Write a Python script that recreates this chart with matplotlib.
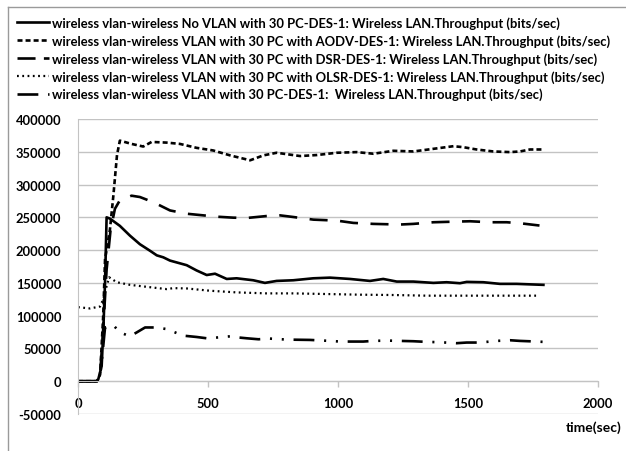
import matplotlib
matplotlib.use("Agg")
import matplotlib.pyplot as plt
from matplotlib.lines import Line2D

# Throughput of the five wireless scenarios (bits/sec) against time (sec)
plt.rcParams['font.family'] = ['Lato', 'DejaVu Sans']
plt.rcParams['font.weight'] = 'bold'
plt.rcParams['lines.scale_dashes'] = False

labels = [
    "wireless vlan-wireless No VLAN with 30 PC-DES-1: Wireless LAN.Throughput (bits/sec)",
    "wireless vlan-wireless VLAN with 30 PC with AODV-DES-1: Wireless LAN.Throughput (bits/sec)",
    "wireless vlan-wireless VLAN with 30 PC with DSR-DES-1: Wireless LAN.Throughput (bits/sec)",
    "wireless vlan-wireless VLAN with 30 PC with OLSR-DES-1: Wireless LAN.Throughput (bits/sec)",
    "wireless vlan-wireless VLAN with 30 PC-DES-1:  Wireless LAN.Throughput (bits/sec)",
]

novlan_t = [0, 40, 73, 78, 91, 97, 104, 110, 123, 161, 200, 238, 277, 303, 328, 354, 418, 456,
            495, 527, 572, 610, 674, 719, 764, 828, 905, 969, 1046, 1123, 1174, 1226, 1290,
            1367, 1418, 1469, 1495, 1559, 1623, 1687, 1790]
novlan_v = [0, 0, 0, 3000, 23000, 74000, 151000, 250000, 248000, 237000, 222000, 209000,
            199000, 192000, 189000, 184000, 177000, 169000, 162000, 164000, 156000, 157000,
            154000, 150000, 153000, 154000, 157000, 158000, 156000, 153000, 156000, 152000,
            152000, 150000, 151000, 149500, 151500, 151000, 148500, 148500, 147000]

aodv_t = [0, 73, 85, 97, 104, 123, 136, 150, 161, 206, 251, 283, 341, 392, 456, 520, 585, 662,
          713, 764, 854, 918, 995, 1072, 1136, 1213, 1290, 1367, 1444, 1482, 1533, 1597, 1662,
          1700, 1738, 1790]
aodv_v = [0, 0, 10000, 100000, 186000, 232000, 283000, 345000, 367000, 362000, 358000, 365000,
          364000, 362000, 356000, 352000, 344500, 337000, 344500, 348500, 343500, 345000,
          348500, 349500, 347000, 351500, 350500, 354500, 358500, 357000, 353500, 350500,
          349500, 350500, 353500, 353500]

dsr_t = [0, 73, 85, 97, 110, 125, 142, 161, 206, 238, 264, 303, 354, 418, 482, 533, 597, 649,
         726, 777, 828, 905, 995, 1059, 1136, 1238, 1290, 1367, 1456, 1508, 1585, 1649, 1700, 1775]
dsr_v = [0, 0, 10000, 80000, 170000, 230000, 263000, 276000, 283000, 281000, 277000, 270500,
         260500, 255500, 253000, 251000, 249500, 249000, 252000, 253000, 250500, 246500,
         245000, 241500, 240000, 239000, 240000, 242500, 243500, 244000, 242500, 242500,
         241000, 237500]

olsr_t = [0, 46, 85, 97, 110, 120, 149, 200, 264, 341, 367, 418, 508, 610, 726, 828, 956, 1085,
          1213, 1341, 1456, 1600, 1770]
olsr_v = [113000, 111000, 114000, 125000, 145000, 158500, 151000, 147000, 144000, 140500,
          142000, 141500, 138000, 135500, 134000, 134000, 133000, 132000, 131500, 130500,
          130500, 130500, 130500]

vlan_t = [0, 73, 85, 95, 104, 136, 161, 200, 226, 258, 303, 341, 405, 456, 495, 546, 585, 610,
          649, 694, 738, 803, 892, 969, 1008, 1097, 1136, 1187, 1290, 1341, 1392, 1456, 1495,
          1546, 1610, 1662, 1700, 1764, 1790]
vlan_v = [0, 0, 8000, 45000, 82000, 85500, 74500, 68500, 74500, 82000, 82000, 79500, 69500,
          67500, 65500, 67000, 68500, 67000, 65500, 64000, 65000, 63500, 63000, 61500, 60500,
          60500, 61500, 62000, 61000, 60000, 59500, 58000, 59000, 59000, 61500, 62500, 61500,
          60500, 60000]

yticks = [-50000, 0, 50000, 100000, 150000, 200000, 250000, 300000, 350000, 400000]
xticks = [0, 500, 1000, 1500, 2000]

fig = plt.figure(figsize=(6.26, 4.52), dpi=100)
ax = fig.add_axes([78 / 626, 1 - 415 / 452, 520 / 626, 295 / 452])

grid_c = '#c3c3c3'
series = [
    (novlan_t, novlan_v, 1.9, '-'),
    (aodv_t, aodv_v, 1.9, (0, (3.6, 2.2))),
    (dsr_t, dsr_v, 1.9, (0, (13, 9))),
    (olsr_t, olsr_v, 1.6, (0, (1.3, 2.5))),
    (vlan_t, vlan_v, 1.9, (0, (15, 7, 1.5, 7, 1.5, 7))),
]
for t, v, lw, ls in series:
    ax.plot(t, v, color='black', lw=lw, linestyle=ls)

ax.set_xlim(0, 2000)
ax.set_ylim(-50000, 400000)
ax.set_yticks(yticks)
ax.set_xticks(xticks)
ax.set_yticklabels([str(v) for v in yticks])
ax.set_xticklabels([str(v) for v in xticks])
ax.yaxis.grid(True, color=grid_c, lw=1)
ax.set_axisbelow(True)

for side in ['top', 'right']:
    ax.spines[side].set_visible(False)
ax.spines['bottom'].set_position(('data', 0))
ax.spines['bottom'].set_color(grid_c)
ax.spines['left'].set_color(grid_c)
ax.tick_params(axis='y', length=0, pad=12, labelsize=9.3)
ax.tick_params(axis='x', length=4, width=1, color=grid_c, pad=7, labelsize=9.3, direction='out')

fig.text(622 / 626, 1 - 428 / 452, "time(sec)", ha='right', va='center',
         fontsize=10, fontweight='bold')

# legend at top of figure, sample styles as in the source legend
leg_styles = ['-', (0, (3.6, 2.2)), (0, (13, 6)), (0, (1.3, 2.5)), (0, (15, 7, 1.5, 20))]
leg_handles = [Line2D([], [], color='black', lw=s[2], linestyle=ls)
               for s, ls in zip(series, leg_styles)]
fig.legend(leg_handles, labels, loc='upper left', bbox_to_anchor=(12 / 626, 1 - 12 / 452),
           frameon=False, fontsize=9.35, handlelength=2.45, handletextpad=0.2,
           labelspacing=0.4, borderaxespad=0)

# outer frame (top and left edges visible)
fig.add_artist(Line2D([8 / 626, 8 / 626], [0, 1 - 8 / 452], color='#9a9a9a', lw=1,
                      transform=fig.transFigure))
fig.add_artist(Line2D([8 / 626, 1], [1 - 8 / 452, 1 - 8 / 452], color='#9a9a9a', lw=1,
                      transform=fig.transFigure))

fig.savefig("out.png", dpi=100)
